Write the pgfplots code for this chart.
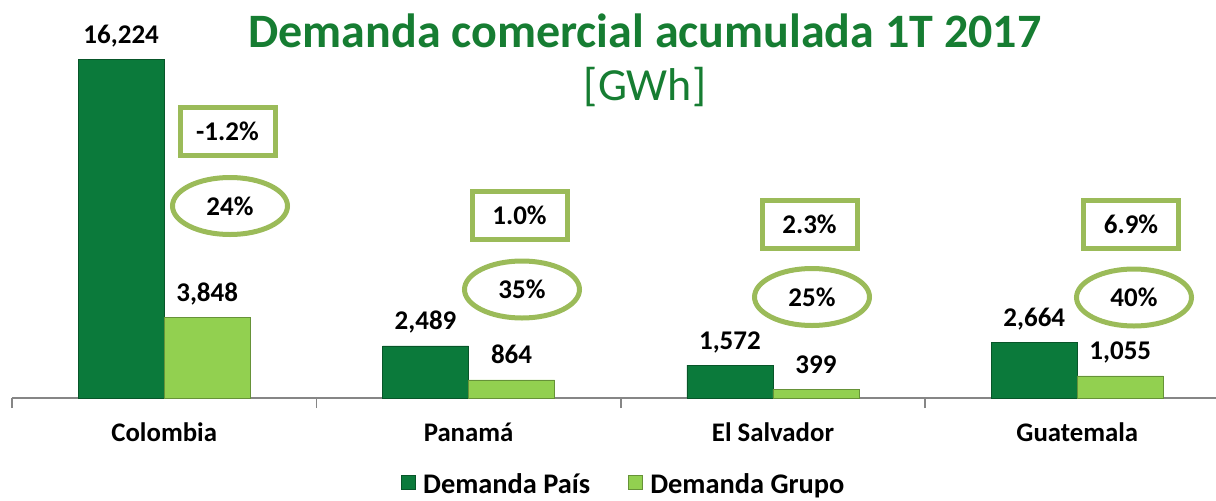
\documentclass[border=0pt]{standalone}
\usepackage{fontspec}
\setmainfont{Carlito}
\usepackage{pgfplots}
\pgfplotsset{compat=1.18}
\usetikzlibrary{shapes.geometric}

\definecolor{pais}{RGB}{11,122,59}
\definecolor{grupo}{RGB}{146,208,80}
\definecolor{marco}{RGB}{155,187,89}
\definecolor{titulo}{RGB}{22,125,50}
\definecolor{eje}{RGB}{134,134,134}

\begin{document}
\begin{tikzpicture}
\path[use as bounding box] (0,0) rectangle (608pt,250pt);

\begin{axis}[
    at={(6pt,51pt)}, anchor=south west,
    scale only axis,
    width=608.75pt, height=169.5pt,
    ybar=0pt, bar width=43pt,
    xmin=-0.5, xmax=3.5, ymin=0, ymax=16224,
    enlargelimits=false,
    axis x line=bottom, axis y line=none,
    x axis line style={-, draw=eje, line width=0.8pt},
    xtick={0,1,2,3},
    xticklabels={Colombia,Panamá,El Salvador,Guatemala},
    major tick length=0pt,
    minor xtick={-0.5,0.5,1.5,2.5,3.5},
    minor tick length=5pt,
    tick align=outside,
    minor tick style={draw=eje, line width=0.8pt},
    xticklabel style={font=\fontsize{13.4}{15}\selectfont\bfseries, anchor=base, yshift=-21.5pt, inner sep=0pt},
    clip=false,
    nodes near coords,
    every node near coord/.append style={font=\fontsize{13.5}{16}\selectfont\bfseries, text=black, anchor=base, yshift=8pt, inner sep=0pt,
        /pgf/number format/.cd, fixed, precision=0, 1000 sep={,}, assume math mode=true},
    legend columns=2,
    legend style={at={(0.503,-0.258)}, anchor=center, draw=none, fill=none,
        font=\fontsize{14.2}{16}\selectfont\bfseries,
        /tikz/every odd column/.append style={column sep=2pt},
        /tikz/every even column/.append style={column sep=17pt},
        nodes={inner xsep=1.8pt}},
    legend image code/.code={\fill[#1] (0pt,-2pt) rectangle (7pt,5pt);},
]
\addplot[fill=pais, draw=pais!70!black, line width=0.4pt] coordinates {(0,16224) (1,2489) (2,1572) (3,2664)};
\addplot[fill=grupo, draw=grupo!70!black, line width=0.4pt] coordinates {(0,3848) (1,864) (2,399) (3,1055)};
\legend{Demanda País, Demanda Grupo}
\end{axis}

\begin{scope}[x=0.5pt, y=-0.5pt, shift={(0pt,250pt)}]
\node[text=titulo, font=\fontsize{24}{28}\selectfont\bfseries, anchor=base] at (645,47) {Demanda comercial acumulada 1T 2017};
\node[text=titulo, font=\fontsize{23}{28}\selectfont, anchor=base] at (645,100) {[GWh]};

\tikzset{caja/.style={draw=marco, line width=2.5pt, minimum width=47.5pt, minimum height=24pt, inner sep=0pt, font=\fontsize{13.5}{15}\selectfont\bfseries},
         elipse/.style={ellipse, draw=marco, line width=2.5pt, minimum width=57.5pt, minimum height=28.5pt, inner sep=0pt, font=\fontsize{13.5}{15}\selectfont\bfseries}}
\node[caja] at (227.5,131) {-1.2\%};
\node[elipse] at (230,206) {24\%};
\node[caja] at (519.5,215) {1.0\%};
\node[elipse] at (522,289.5) {35\%};
\node[caja] at (809.5,224) {2.3\%};
\node[elipse] at (812,297) {25\%};
\node[caja] at (1131,224) {6.9\%};
\node[elipse] at (1134,297.5) {40\%};
\end{scope}
\end{tikzpicture}
\end{document}
